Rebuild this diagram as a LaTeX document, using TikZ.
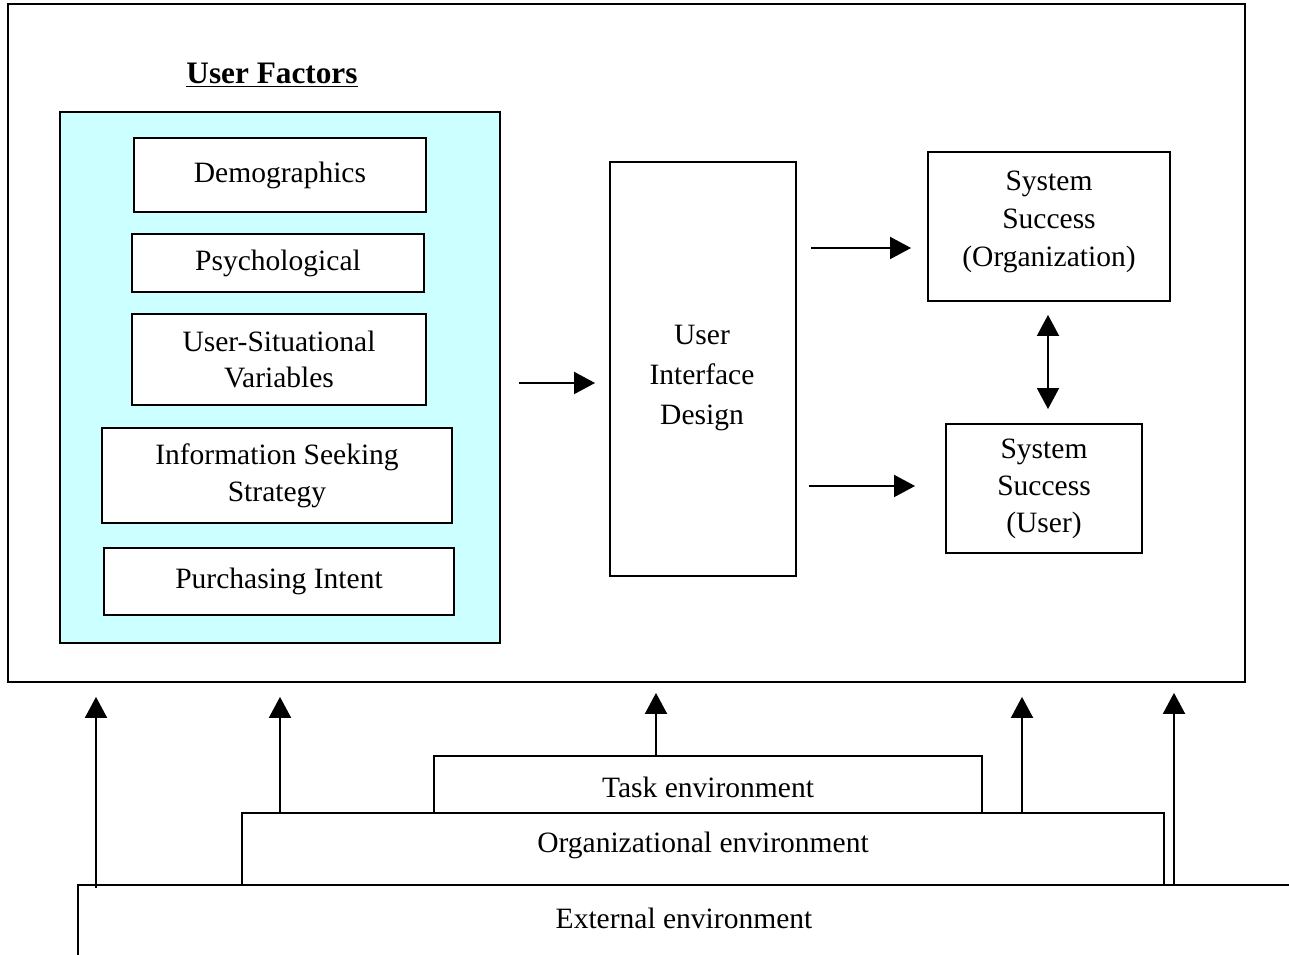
\documentclass[tikz,border=0pt]{standalone}
\usepackage{fontspec}
\setmainfont{Liberation Serif}
\usetikzlibrary{arrows.meta}
\definecolor{cyanbg}{RGB}{204,255,255}
\begin{document}
\begin{tikzpicture}[x=0.02cm,y=-0.02cm,line width=1.1pt,
  box/.style={draw,fill=white,line width=1.1pt,align=center,inner sep=0pt,font=\fontsize{16.8}{21}\selectfont},
  plain/.style={inner sep=0pt,align=center,font=\fontsize{16.8}{21.5}\selectfont},
  arr/.style={-{Triangle[length=0.42cm,width=0.44cm]}},
  darr/.style={{Triangle[length=0.42cm,width=0.44cm]}-{Triangle[length=0.42cm,width=0.44cm]}}]
\useasboundingbox (0,0) rectangle (1289,955);
% outer frame
\node[box,minimum width=24.74cm,minimum height=13.56cm] (frame) at (626.5,343) {};
% title
\node[plain,font=\fontsize{17.8}{21}\selectfont\bfseries] (title) at (272,75) {\underline{User Factors}};
% user factors
\node[box,fill=cyanbg,minimum width=8.8cm,minimum height=10.62cm] (uf) at (280,377.5) {};
\node[box,minimum width=5.84cm,minimum height=1.48cm] (demo) at (280,175) {Demographics};
\node[box,minimum width=5.84cm,minimum height=1.16cm] (psych) at (278,263) {Psychological};
\node[box,minimum width=5.88cm,minimum height=1.82cm] (usv) at (279,359.5) {User-Situational\\Variables};
\node[box,minimum width=7.0cm,minimum height=1.9cm] (iss) at (277,475.5) {Information Seeking\\Strategy};
\node[box,minimum width=7.0cm,minimum height=1.34cm] (pi) at (279,581.5) {Purchasing Intent};
% UID
\node[box,minimum width=3.72cm,minimum height=8.28cm] (uid) at (703,369) {};
\node[plain,font=\fontsize{16.8}{22.5}\selectfont] (uidtxt) at (702,378) {User\\Interface\\Design};
% system success
\node[box,minimum width=4.84cm,minimum height=2.98cm] (sso) at (1049,226.5) {};
\node[plain] (ssotxt) at (1049,222) {System\\Success\\(Organization)};
\node[box,minimum width=3.92cm,minimum height=2.58cm] (ssu) at (1044,488.5) {System\\Success\\(User)};
% arrows inside
\draw[arr,shorten <=0.36cm,shorten >=0.28cm] (uf.east |- 0,383) -- (uid.west |- 0,383);
\draw[arr,shorten <=0.28cm,shorten >=0.32cm] (uid.east |- 0,248) -- (sso.west |- 0,248);
\draw[arr,shorten <=0.24cm,shorten >=0.6cm] (uid.east |- 0,486) -- (ssu.west |- 0,486);
\draw[darr,shorten <=0.26cm,shorten >=0.28cm] (sso.south -| 1048,0) -- (ssu.north -| 1048,0);
% environments
\node[box,minimum width=10.96cm,minimum height=1.14cm] (task) at (708,784.5) {};
\node[plain] (tasktxt) at (708,787) {Task environment};
\node[box,minimum width=18.44cm,minimum height=1.44cm] (org) at (703,849) {};
\node[plain] (orgtxt) at (703,845) {Organizational environment};
\coordinate (extc) at (78,885);
\coordinate (extr) at (1289,885);
\draw (78,955) -- (extc) -- (extr);
\node[plain] (exttxt) at (684,918) {External environment};
% upward arrows
\draw[arr,shorten >=0.28cm] (96,888) -- (frame.south -| 96,0);
\draw[arr,shorten >=0.28cm] (org.north -| 280,0) -- (frame.south -| 280,0);
\draw[arr,shorten >=0.2cm] (task.north -| 656,0) -- (frame.south -| 656,0);
\draw[arr,shorten >=0.28cm] (org.north -| 1022,0) -- (frame.south -| 1022,0);
\draw[arr,shorten >=0.2cm] (extc -| 1174,0) -- (frame.south -| 1174,0);
\end{tikzpicture}
\end{document}
